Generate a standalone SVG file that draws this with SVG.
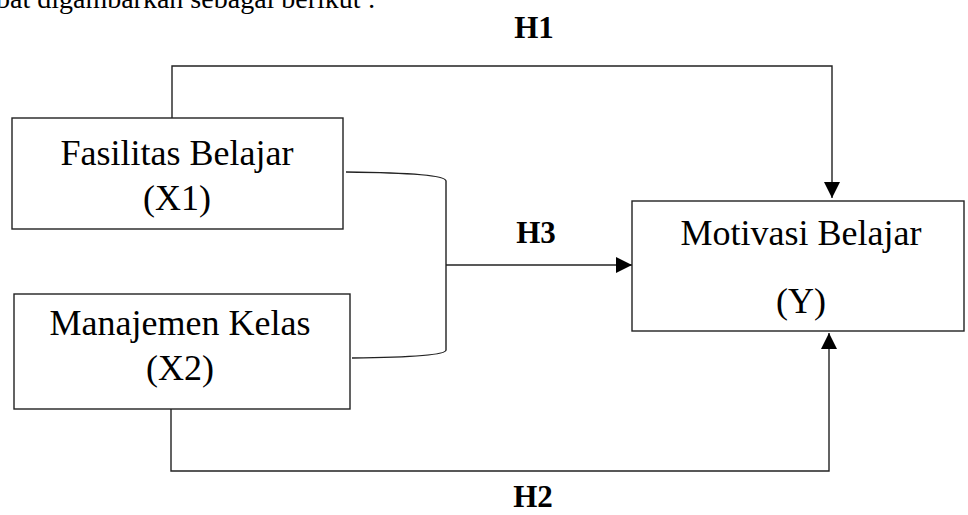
<svg xmlns="http://www.w3.org/2000/svg" width="968" height="515" viewBox="0 0 968 515">
  <style>
    .box { fill: #ffffff; stroke: #222222; stroke-width: 1.4; }
    .txt { font-family: "Liberation Serif", "Times New Roman", serif; font-size: 36px; fill: #000000; text-anchor: middle; }
    .lbl { font-family: "Liberation Serif", "Times New Roman", serif; font-size: 31px; font-weight: bold; fill: #000000; text-anchor: middle; }
    .top { font-family: "Liberation Serif", "Times New Roman", serif; font-size: 28px; fill: #000000; }
    .conn { fill: none; stroke: #222222; stroke-width: 1.4; }
  </style>
  <defs>
    <marker id="arrow" markerUnits="userSpaceOnUse" markerWidth="16" markerHeight="16" viewBox="0 0 16 16" refX="16" refY="8" orient="auto">
      <path d="M0,0 L16,8 L0,16 Z" fill="#000000"/>
    </marker>
  </defs>
  <rect width="968" height="515" fill="#ffffff"/>
  <text class="top" x="-4" y="8">bat digambarkan sebagai berikut :</text>

  <g id="connectors">
    <path id="h1" class="conn" d="M172,118 L172,66 L832,66 L832,198" marker-end="url(#arrow)"/>
    <path id="h2" class="conn" d="M171,409 L171,471 L829,471 L829,333" marker-end="url(#arrow)"/>
    <path id="bracket" class="conn" d="M346,172 Q446,173 446,181 L446,350 Q446,357 352,358"/>
    <path id="h3" class="conn" d="M446,265 L632,265" marker-end="url(#arrow)"/>
    <text class="lbl" x="534" y="38">H1</text>
    <text class="lbl" x="536" y="243">H3</text>
    <text class="lbl" x="533" y="507">H2</text>
  </g>

  <g id="node-x1">
    <rect class="box" x="12" y="118" width="331" height="111"/>
    <text class="txt" x="177" y="165">Fasilitas Belajar</text>
    <text class="txt" x="177" y="210">(X1)</text>
  </g>
  <g id="node-x2">
    <rect class="box" x="14" y="294" width="336" height="115"/>
    <text class="txt" x="180" y="335">Manajemen Kelas</text>
    <text class="txt" x="180" y="380">(X2)</text>
  </g>
  <g id="node-y">
    <rect class="box" x="632" y="201" width="332" height="130"/>
    <text class="txt" x="801" y="245">Motivasi Belajar</text>
    <text class="txt" x="801" y="313">(Y)</text>
  </g>
</svg>
